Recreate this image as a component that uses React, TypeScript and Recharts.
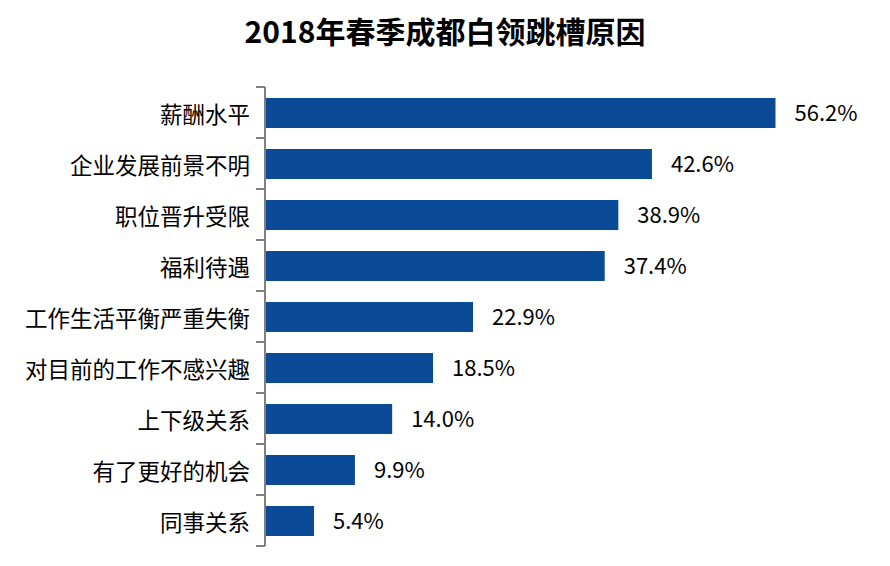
import React from 'react';
import { BarChart, Bar, XAxis, YAxis, LabelList } from 'recharts';

const categories = ['薪酬水平', '企业发展前景不明', '职位晋升受限', '福利待遇', '工作生活平衡严重失衡', '对目前的工作不感兴趣', '上下级关系', '有了更好的机会', '同事关系'];
const values = [56.2, 42.6, 38.9, 37.4, 22.9, 18.5, 14.0, 9.9, 5.4];
const title = '2018年春季成都白领跳槽原因';

const data = categories.map((c, i) => ({ name: c, value: values[i] }));
const FONT = '"Noto Sans CJK SC", "Noto Sans", sans-serif';

const W = 890;
const H = 566;
const M = { top: 87, right: 80, bottom: 20, left: 0 };
const AXIS_W = 265;
const BAND = (H - M.top - M.bottom) / categories.length;
const TICK = 9;

function CatTick(props: any) {
  const { x, y, payload, index } = props;
  const ax = AXIS_W;
  return (
    <g>
      <line x1={ax - TICK} x2={ax} y1={y - BAND / 2} y2={y - BAND / 2} stroke="#808080" strokeWidth={2} />
      {index === categories.length - 1 && (
        <line x1={ax - TICK} x2={ax} y1={y + BAND / 2} y2={y + BAND / 2} stroke="#808080" strokeWidth={2} />
      )}
      <text x={ax - TICK - 6} y={y} textAnchor="end" dominantBaseline="central" fill="#000" fontSize={22.5} fontFamily={FONT}>
        {payload.value}
      </text>
    </g>
  );
}

export default function App() {
  return (
    <div style={{ position: 'absolute', left: 0, top: 0, width: W, height: H, background: '#fff', fontFamily: FONT }}>
      <div style={{ position: 'absolute', left: 0, top: 15, width: W, height: 30, lineHeight: '30px', textAlign: 'center', fontWeight: 'bold', fontSize: 30, color: '#000' }}>
        {title}
      </div>
      <BarChart layout="vertical" width={W} height={H} data={data} margin={M} barSize={30}>
        <XAxis type="number" domain={[0, 60]} hide />
        <YAxis
          type="category"
          dataKey="name"
          width={AXIS_W}
          axisLine={{ stroke: '#808080', strokeWidth: 2 }}
          tickLine={false}
          tick={<CatTick />}
          interval={0}
        />
        <Bar dataKey="value" fill="#0A4A96" isAnimationActive={false}>
          <LabelList dataKey="value" position="right" offset={19} formatter={(v: number) => v.toFixed(1) + '%'} style={{ fill: '#000', fontSize: 22, fontFamily: FONT }} />
        </Bar>
      </BarChart>
    </div>
  );
}
